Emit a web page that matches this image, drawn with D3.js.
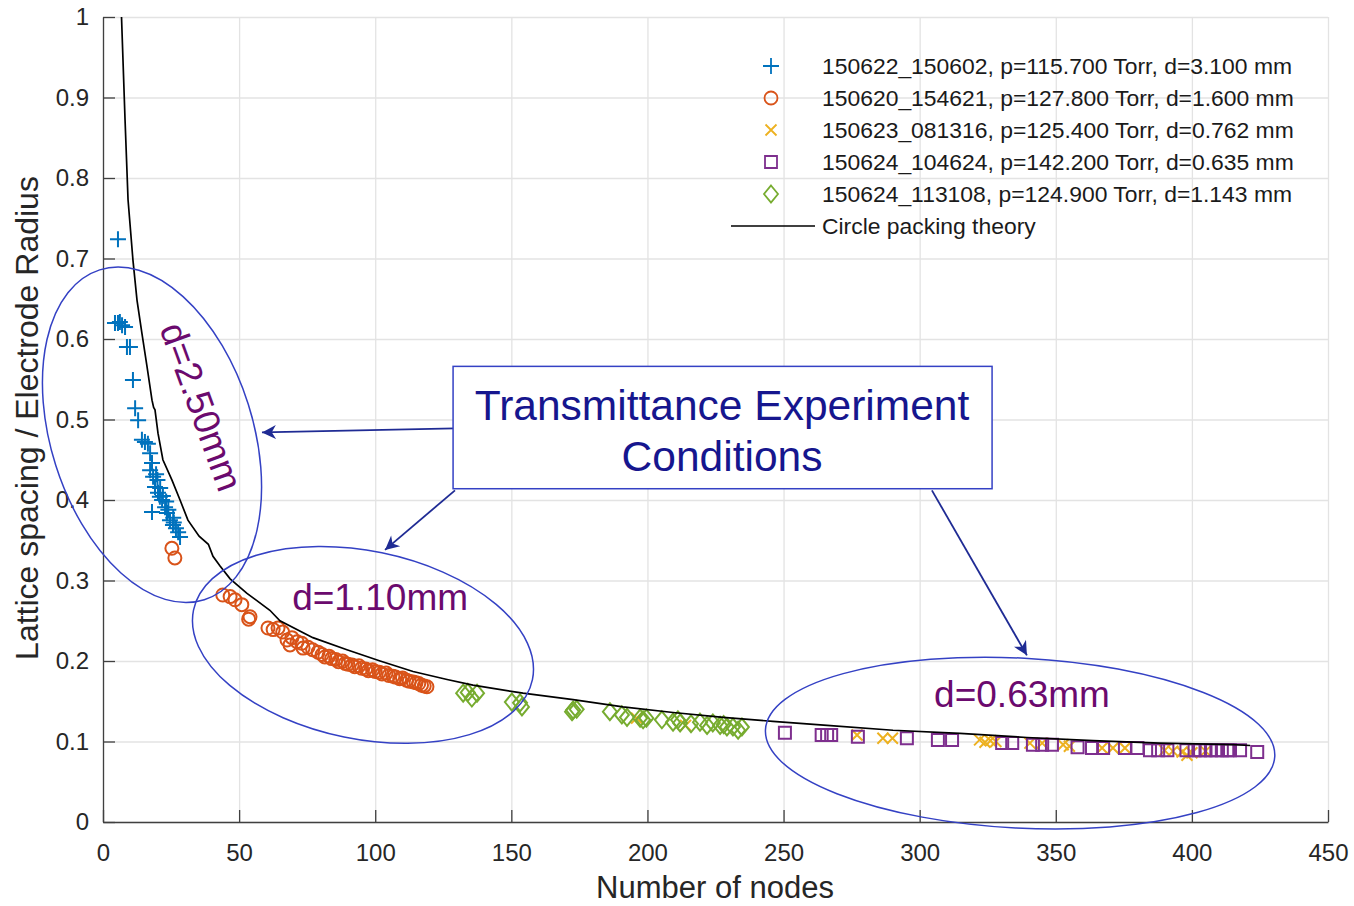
<html>
<script src='https://d3js.org/d3.v7.min.js'></script>
<style>
  body { margin: 0; background: white; }
  text { font-family: "Liberation Sans", Arial, sans-serif; }
  .axis path, .axis line { stroke: #404040; stroke-width: 1.3; }
  .axis text { fill: #262626; font-size: 24px; }
  .grid line { stroke: #e3e3e3; stroke-width: 1.3; }
  .grid path { display: none; }
</style>
<body>
<svg width=1354 height=906></svg>
<script>
// ticks
const xTicks = [0, 50, 100, 150, 200, 250, 300, 350, 400, 450];
const yTicks = [0, 0.1, 0.2, 0.3, 0.4, 0.5, 0.6, 0.7, 0.8, 0.9, 1];

// series: [nodes, spacing / radius]
const blueN = [5.5, 4.4, 5.5, 6.2, 7.0, 8.1, 8.8, 9.9, 11.0, 11.8, 12.9, 14.3, 15.4, 16.5, 17.3, 18.0, 17.3, 18.4, 19.1, 20.2, 20.9, 21.7, 18.0, 22.8, 23.5, 24.6, 25.7, 26.8, 27.6, 28.3, 21.0, 22.0, 23.2, 24.0, 25.8, 20.0, 19.5, 26.0];
const blueV = [0.724, 0.620, 0.620, 0.621, 0.617, 0.615, 0.590, 0.590, 0.549, 0.514, 0.499, 0.475, 0.472, 0.470, 0.458, 0.446, 0.437, 0.429, 0.416, 0.409, 0.404, 0.400, 0.385, 0.391, 0.384, 0.375, 0.369, 0.365, 0.360, 0.354, 0.415, 0.405, 0.398, 0.388, 0.378, 0.425, 0.432, 0.372];

const orangeN = [25.3, 26.4, 44, 46.7, 48.5, 51, 54, 53.5, 60.6, 62.5, 64.3, 66, 67.6, 69.4, 68.7, 71.3, 73, 73.5, 75.3,
  77, 79, 80.5, 81.5, 83, 84, 85.5, 86.5, 88, 89, 90, 91.5, 92.5, 94, 95, 96.5, 97.5, 99, 100, 101.5, 102.5, 104, 105, 106.5, 107.5, 109, 110, 111.5, 112.5, 114, 115, 116, 117, 118, 119];
const orangeV = [0.340, 0.328, 0.282, 0.280, 0.276, 0.270, 0.255, 0.252, 0.241, 0.239, 0.241, 0.236, 0.226, 0.229, 0.220, 0.224, 0.222, 0.216, 0.217,
  0.214, 0.211, 0.208, 0.205, 0.206, 0.203, 0.202, 0.199, 0.200, 0.197, 0.196, 0.195, 0.193, 0.194, 0.191, 0.190, 0.188, 0.189, 0.187, 0.186, 0.184, 0.185, 0.182, 0.181, 0.180, 0.178, 0.179, 0.176, 0.175, 0.174, 0.173, 0.172, 0.170, 0.169, 0.168];

const yellowN = [196, 214, 277, 286.5, 290, 322, 324, 326, 328, 340.5, 345, 352.7, 355, 367, 371, 375.4, 390, 393, 396.4, 398.2, 400, 405];
const yellowV = [0.129, 0.120, 0.108, 0.104, 0.104, 0.102, 0.099, 0.101, 0.100, 0.098, 0.098, 0.096, 0.094, 0.092, 0.092, 0.092, 0.089, 0.088, 0.087, 0.083, 0.086, 0.088];

const purpleN = [250.5, 264, 266, 267.5, 277.3, 295.3, 306.7, 311.9, 330.3, 334, 341.6, 345, 348.6, 358, 363.3, 367.4, 375.4, 380, 384.6, 387.6, 391, 398, 401, 403, 405, 407, 409, 411, 413, 414, 417.7, 424];
const purpleV = [0.111, 0.108, 0.108, 0.108, 0.106, 0.104, 0.102, 0.102, 0.098, 0.098, 0.096, 0.096, 0.096, 0.093, 0.092, 0.092, 0.092, 0.092, 0.089, 0.089, 0.089, 0.089, 0.089, 0.089, 0.089, 0.089, 0.089, 0.089, 0.089, 0.089, 0.089, 0.087];

const greenN = [132.3, 134, 135.5, 137.4, 150.2, 153.9, 153.2, 172.7, 172.3, 174, 186.2, 190.6, 192.5, 197.3, 198.4, 199.6, 205.3, 209.4, 211.2, 212, 216, 219.3, 221.9, 224, 226.7, 228, 229.2, 231.4, 233.3, 234.7];
const greenV = [0.160, 0.161, 0.154, 0.160, 0.149, 0.143, 0.148, 0.139, 0.137, 0.140, 0.137, 0.133, 0.130, 0.129, 0.127, 0.129, 0.127, 0.124, 0.127, 0.123, 0.122, 0.124, 0.120, 0.123, 0.120, 0.121, 0.118, 0.118, 0.114, 0.118];

// circle packing theory curve
const theoryN = [6.8, 8.1, 9.2, 11.0, 12.5, 14.3, 16.2, 18.0, 18.6, 19.1, 20.2, 22, 25.3, 28.3, 31.2, 35.3, 38.7, 40.4, 43, 46.7, 52.9, 61.3, 65, 77.1, 89.6, 101.8, 113.9, 126.4, 135.9, 154.3, 172.7, 191, 209.4, 227.8, 246.1, 266, 290.2, 314.8, 339.4, 363.7, 388.3, 415.1, 421.4];
const theoryV = [1.0, 0.872, 0.773, 0.698, 0.648, 0.607, 0.565, 0.524, 0.515, 0.512, 0.483, 0.450, 0.425, 0.400, 0.375, 0.355, 0.345, 0.330, 0.318, 0.302, 0.284, 0.263, 0.250, 0.229, 0.214, 0.200, 0.187, 0.177, 0.170, 0.160, 0.152, 0.143, 0.136, 0.130, 0.125, 0.120, 0.114, 0.110, 0.105, 0.101, 0.098, 0.096, 0.095];

const legendLabels = [
  "150622_150602, p=115.700 Torr, d=3.100 mm",
  "150620_154621, p=127.800 Torr, d=1.600 mm",
  "150623_081316, p=125.400 Torr, d=0.762 mm",
  "150624_104624, p=142.200 Torr, d=0.635 mm",
  "150624_113108, p=124.900 Torr, d=1.143 mm",
  "Circle packing theory"
];

const colors = ["#0072BD", "#D95319", "#EDB120", "#7E2F8E", "#77AC30"];
const shapes = ["plus", "circle", "cross", "square", "diamond"];

var svg = d3.select("svg");
var x = d3.scaleLinear([0, 450], [103, 1328]);
var y = d3.scaleLinear([0, 1], [822, 17]);

// grid
svg.append("g").attr("class", "grid")
  .attr("transform", "translate(0,822)")
  .call(d3.axisBottom(x).tickValues(xTicks).tickSize(-805).tickFormat(""));
svg.append("g").attr("class", "grid")
  .attr("transform", "translate(103,0)")
  .call(d3.axisLeft(y).tickValues(yTicks).tickSize(-1225).tickFormat(""));

function symbolPath(shape) {
  switch (shape) {
    case "plus": return "M-8,0H8M0,-8V8";
    case "cross": return "M-5.5,-5.5L5.5,5.5M-5.5,5.5L5.5,-5.5";
    case "circle": return "M6.5,0A6.5,6.5 0 1,1 -6.5,0A6.5,6.5 0 1,1 6.5,0Z";
    case "square": return "M-6,-6H6V6H-6Z";
    case "diamond": return "M0,-8.5L7,0L0,8.5L-7,0Z";
  }
}

function drawSeries(ns, vs, k) {
  svg.append("g")
    .selectAll("path")
    .data(ns)
    .enter()
    .append("path")
    .attr("transform", function(d, i) { return "translate(" + x(d) + "," + y(vs[i]) + ")"; })
    .attr("d", symbolPath(shapes[k]))
    .style("fill", "none")
    .style("stroke", colors[k])
    .style("stroke-width", 2);
}

drawSeries(blueN, blueV, 0);
drawSeries(orangeN, orangeV, 1);
drawSeries(yellowN, yellowV, 2);
drawSeries(purpleN, purpleV, 3);
drawSeries(greenN, greenV, 4);

// theory line
svg.append("path")
  .datum(theoryN)
  .attr("d", d3.line().x(d => x(d)).y((d, i) => y(theoryV[i])))
  .style("fill", "none")
  .style("stroke", "black")
  .style("stroke-width", 1.7);

// axes
svg.append("g").attr("class", "axis")
  .attr("transform", "translate(0,822)")
  .call(d3.axisBottom(x).tickValues(xTicks).tickSize(-12).tickPadding(22).tickSizeOuter(0));
svg.append("g").attr("class", "axis")
  .attr("transform", "translate(103,0)")
  .call(d3.axisLeft(y).tickValues(yTicks).tickSize(-12).tickPadding(14).tickSizeOuter(0).tickFormat(d3.format("~g")));

svg.append("text")
  .attr("x", 715).attr("y", 898)
  .attr("text-anchor", "middle")
  .style("font-size", "31px").style("fill", "#262626")
  .text("Number of nodes");
svg.append("text")
  .attr("transform", "translate(38,418) rotate(-90)")
  .attr("text-anchor", "middle")
  .style("font-size", "32px").style("fill", "#262626")
  .text("Lattice spacing / Electrode Radius");

// legend
var legend = svg.append("g");
legendLabels.forEach(function(lab, i) {
  var ly = 66 + i * 32;
  if (i < 5) {
    legend.append("path")
      .attr("transform", "translate(771," + ly + ")")
      .attr("d", symbolPath(shapes[i]))
      .style("fill", "none").style("stroke", colors[i]).style("stroke-width", 1.8);
  } else {
    legend.append("line")
      .attr("x1", 731).attr("x2", 815).attr("y1", ly).attr("y2", ly)
      .style("stroke", "black").style("stroke-width", 1.7);
  }
  legend.append("text")
    .attr("x", 822).attr("y", ly).attr("dy", "0.36em")
    .style("font-size", "22.9px").style("fill", "#1a1a1a")
    .text(lab);
});

// annotations
var annColor = "#3441c4";
var arrowColor = "#1f2b94";
var labelColor = "#6b0a6e";

svg.append("defs").append("marker")
  .attr("id", "head")
  .attr("viewBox", "0 0 10 10")
  .attr("refX", 10).attr("refY", 5)
  .attr("markerWidth", 16).attr("markerHeight", 14)
  .attr("markerUnits", "userSpaceOnUse")
  .attr("orient", "auto")
  .append("path").attr("d", "M0,0L10,5L0,10L3,5Z").style("fill", arrowColor);

const ellipses = [
  { n: 18.0, v: 0.481, rx: 173, ry: 101, rot: 72.4 },
  { n: 95.5, v: 0.220, rx: 173, ry: 94, rot: 11.6 },
  { n: 336.9, v: 0.098, rx: 255, ry: 85, rot: 3 }
];
ellipses.forEach(function(e) {
  svg.append("ellipse")
    .attr("transform", "translate(" + x(e.n) + "," + y(e.v) + ") rotate(" + e.rot + ")")
    .attr("rx", e.rx).attr("ry", e.ry)
    .style("fill", "none").style("stroke", annColor).style("stroke-width", 1.5);
});

const arrows = [
  { n1: 129.3, v1: 0.489, n2: 58.4, v2: 0.484 },
  { n1: 129.3, v1: 0.412, n2: 103.6, v2: 0.338 },
  { n1: 304.5, v1: 0.412, n2: 339.4, v2: 0.207 }
];
arrows.forEach(function(a) {
  svg.append("line")
    .attr("x1", x(a.n1)).attr("y1", y(a.v1))
    .attr("x2", x(a.n2)).attr("y2", y(a.v2))
    .style("stroke", arrowColor).style("stroke-width", 1.8)
    .attr("marker-end", "url(#head)");
});

// callout box
svg.append("rect")
  .attr("x", x(128.6)).attr("y", y(0.566))
  .attr("width", x(326.6) - x(128.6)).attr("height", y(0.414) - y(0.566))
  .style("fill", "white").style("stroke", annColor).style("stroke-width", 1.5);
svg.append("text")
  .attr("x", x(227.4)).attr("y", y(0.518)).attr("dy", "0.36em")
  .attr("text-anchor", "middle")
  .style("font-size", "42.5px").style("fill", "#16168e")
  .text("Transmittance Experiment");
svg.append("text")
  .attr("x", x(227.4)).attr("y", y(0.455)).attr("dy", "0.36em")
  .attr("text-anchor", "middle")
  .style("font-size", "42.5px").style("fill", "#16168e")
  .text("Conditions");

// d labels
svg.append("text")
  .attr("transform", "translate(" + x(36.3) + "," + y(0.516) + ") rotate(70)")
  .attr("dy", "0.36em").attr("text-anchor", "middle")
  .style("font-size", "37px").style("fill", labelColor)
  .text("d=2.50mm");
svg.append("text")
  .attr("x", x(101.8)).attr("y", y(0.280)).attr("dy", "0.36em")
  .attr("text-anchor", "middle")
  .style("font-size", "37px").style("fill", labelColor)
  .text("d=1.10mm");
svg.append("text")
  .attr("x", x(337.6)).attr("y", y(0.160)).attr("dy", "0.36em")
  .attr("text-anchor", "middle")
  .style("font-size", "37px").style("fill", labelColor)
  .text("d=0.63mm");
</script>
</body>
</html>
